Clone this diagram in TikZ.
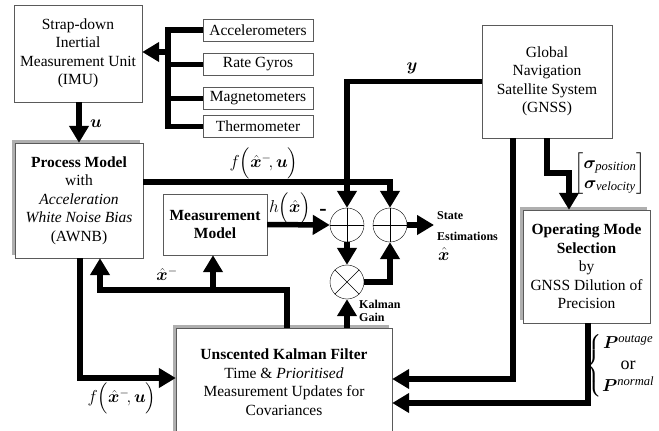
\documentclass[tikz,border=0pt]{standalone}
\usepackage{fontspec}
\setmainfont{Liberation Serif}
\usepackage{amsmath}
\usepackage{bm}
\usetikzlibrary{positioning,arrows.meta,shadows,calc}
\definecolor{shadowgray}{RGB}{175,175,175}
\definecolor{edgegray}{RGB}{90,90,90}

\tikzset{
  block/.style={draw=edgegray, fill=white, align=center, inner sep=0pt,
    font=\fontsize{15.5}{18.5}\selectfont},
  sensor/.style={block, minimum width=110pt, minimum height=22pt},
  shadowed/.style={drop shadow={shadow xshift=-3.5pt, shadow yshift=3.5pt,
    fill=shadowgray, opacity=1}},
  junction/.style={draw, circle, minimum size=34pt, inner sep=0pt, fill=white},
  flow/.style={line width=5.5pt},
  flowarrow/.style={line width=5.5pt, -{Triangle[length=17pt,width=19pt]}},
  lbl/.style={font=\fontsize{18}{20}\selectfont, inner sep=1pt},
  small/.style={font=\fontsize{12}{13}\selectfont\bfseries, align=left, inner sep=0pt},
}

\begin{document}
\begin{tikzpicture}[x=1pt,y=-1pt]
\clip (0,0) rectangle (659,431);

% IMU and sensors
\node[block, minimum width=128pt, minimum height=97pt] (imu) at (78,53.5)
  {Strap-down\\Inertial\\Measurement Unit\\(IMU)};
\node[sensor] (acc) at (258,30) {Accelerometers};
\node[sensor] (gyro) at (258,64.5) {Rate Gyros};
\node[sensor] (mag) at (258,98.5) {Magnetometers};
\node[sensor] (therm) at (258,126.5) {Thermometer};
\coordinate (bus) at (168,52);
\draw[flow] (acc.west) -| (bus |- therm.west) -- (therm.west);
\draw[flow] (gyro.west) -- (gyro.west -| bus);
\draw[flow] (mag.west) -- (mag.west -| bus);
\draw[flowarrow] (bus) -- (bus -| imu.east);

% Models
\node[block, shadowed, minimum width=128pt, minimum height=115pt] (pm) at (79,200.5)
  {\textbf{Process Model}\\with\\\textit{Acceleration}\\\textit{White Noise Bias}\\(AWNB)};
\node[block, minimum width=104pt, minimum height=61pt] (mm) at (215,224.5)
  {\textbf{Measurement}\\\textbf{Model}};
\draw[flowarrow] (pm.north |- imu.south) -- (pm.north);
\node[lbl] (ulbl) at (96,124) {$\bm{u}$};

% GNSS and mode selection
\node[block, minimum width=130pt, minimum height=113pt] (gnss) at (547,81.5)
  {Global\\Navigation\\Satellite System\\(GNSS)};
\node[block, shadowed, minimum width=127pt, minimum height=113pt] (opm) at (586.5,266.5)
  {\textbf{Operating Mode}\\\textbf{Selection}\\by\\GNSS Dilution of\\Precision};

% UKF
\node[block, shadowed, minimum width=216pt, minimum height=108pt] (ukf) at (284,382)
  {\textbf{Unscented Kalman Filter}\\Time \& \textit{Prioritised}\\Measurement Updates for\\Covariances};

% Junctions
\node[junction] (sum1) at (347,225) {};
\node[junction] (sum2) at (390,225) {};
\node[junction] (mult) at (347,282) {};
\draw (sum1.north) -- (sum1.south) (sum1.west) -- (sum1.east);
\draw (sum2.north) -- (sum2.south) (sum2.west) -- (sum2.east);
\draw (mult.north west) -- (mult.south east) (mult.north east) -- (mult.south west);

% Signal flow
\draw[flowarrow] ([yshift=18.5pt]pm.east) -| (sum2.north);
\draw[flowarrow] (gnss.west) -| (sum1.north);
\draw[flowarrow] (mm.east) -- (sum1.west);
\draw[flowarrow] (sum1.south) -- (mult.north);
\draw[flowarrow] (mult.east) -| (sum2.south);
\coordinate (est) at (434,225);
\draw[flowarrow] (sum2.east) -- (est);
\draw[flowarrow] (ukf.north -| mult) -- (mult.south);
\coordinate (fb) at (213,290);
\draw[flowarrow] ([xshift=3pt]ukf.north) |- (fb) -| ([xshift=21pt]pm.south);
\draw[flowarrow] (fb) -- (fb |- mm.south);
\draw[flowarrow] ([xshift=1pt]pm.south) |- ([yshift=4pt]ukf.west);
\coordinate (bend) at (569,173);
\draw[flowarrow] (gnss.south) |- (bend) -- (bend |- opm.north);
\draw[flowarrow] ([xshift=-34pt]gnss.south) |- ([yshift=3pt]ukf.east);
\draw[flowarrow] ([xshift=1.5pt]opm.south) |- ([yshift=-21pt]ukf.east);

% Labels
\node[lbl] (ylbl) at (412,68) {$\bm{y}$};
\node[lbl] (ftop) at (264,163) {$f\Bigl(\hat{\bm{x}}^{-}\!,\bm{u}\Bigr)$};
\node[lbl] (hlbl) at (290,208) {$h\Bigl(\hat{\bm{x}}\Bigr)$};
\node[font=\fontsize{22}{22}\selectfont\bfseries, inner sep=0pt] (minus) at (323,212) {-};
\node[lbl] (xprior) at (167,274) {$\hat{\bm{x}}^{-}$};
\node[lbl] (fbot) at (122,398) {$f\Bigl(\hat{\bm{x}}^{-}\!,\bm{u}\Bigr)$};
\node[small, anchor=west] (kgain) at (359,311) {Kalman\\Gain};
\node[small, anchor=west] (state) at (437,216) {State};
\node[small, anchor=west] (estim) at (437,236) {Estimations};
\node[lbl, anchor=west] (xhat) at (437,254) {$\hat{\bm{x}}$};
\node[lbl] (sigma) at (610,174)
  {$\begin{bmatrix}\bm{\sigma}_{\mathit{position}}\\[0pt]\bm{\sigma}_{\mathit{velocity}}\end{bmatrix}$};
\node[lbl] (plbl) at (621,366)
  {$\left\{\begin{array}{@{}c@{}}\bm{P}^{\mathit{outage}}\\[1pt]\text{or}\\[1pt]\bm{P}^{\mathit{normal}}\end{array}\right.$};

\end{tikzpicture}
\end{document}
